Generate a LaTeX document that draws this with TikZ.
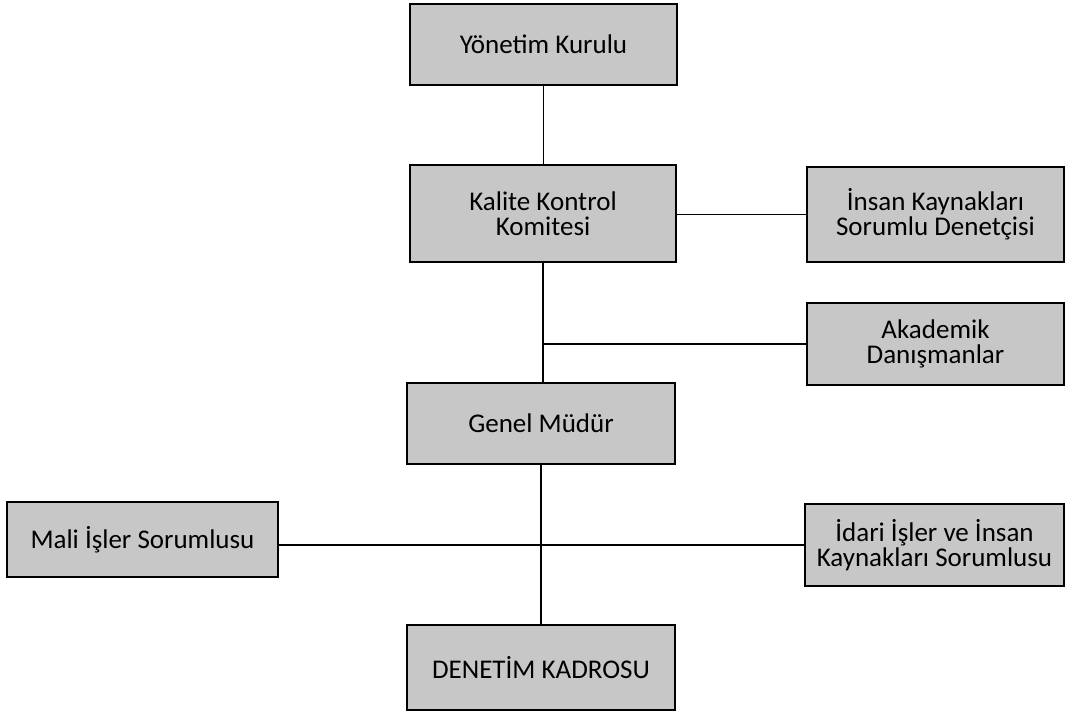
\documentclass[tikz,border=0pt]{standalone}
\usepackage{fontspec}
\setmainfont{Carlito}
\begin{document}
\begin{tikzpicture}[x=1pt,y=-1pt,
  box/.style={draw=black, line width=1.6pt, fill=black!22, align=center, inner sep=0pt,
    font=\fontsize{27}{25}\selectfont},
  conn/.style={draw=black, line width=1.4pt}]
\useasboundingbox[fill=white] (0,0) rectangle (1066,712);
\node[box, minimum width=267, minimum height=81] (yk) at (543.5,44.5) {Yönetim Kurulu};
\node[box, minimum width=266, minimum height=97] (kk) at (543,213.5) {Kalite Kontrol\\Komitesi};
\node[box, minimum width=257, minimum height=95] (ik) at (935.5,214.5) {İnsan Kaynakları\\Sorumlu Denetçisi};
\node[box, minimum width=257, minimum height=82] (ad) at (935.5,344) {Akademik\\Danışmanlar};
\node[box, minimum width=268, minimum height=81] (gm) at (541,423.5) {Genel Müdür};
\node[box, minimum width=271, minimum height=75] (ms) at (142.5,539.5) {Mali İşler Sorumlusu};
\node[box, minimum width=259, minimum height=82] (ii) at (934.5,545) {İdari İşler ve İnsan\\Kaynakları Sorumlusu};
\node[box, minimum width=268, minimum height=85] (dk) at (541,667.5) {DENETİM KADROSU};
\draw[conn] (yk.south) -- (yk.south |- kk.north);
\draw[conn] (kk.east |- ik.west) -- (ik.west);
\draw[conn] (kk.south) -- (kk.south |- gm.north);
\coordinate (br) at (kk.south |- ad.west);
\draw[conn] (br) -- (ad.west);
\draw[conn] (gm.south) -- (dk.north);
\draw[conn] (ii.west -| ms.east) -- (ii.west);
\end{tikzpicture}
\end{document}
